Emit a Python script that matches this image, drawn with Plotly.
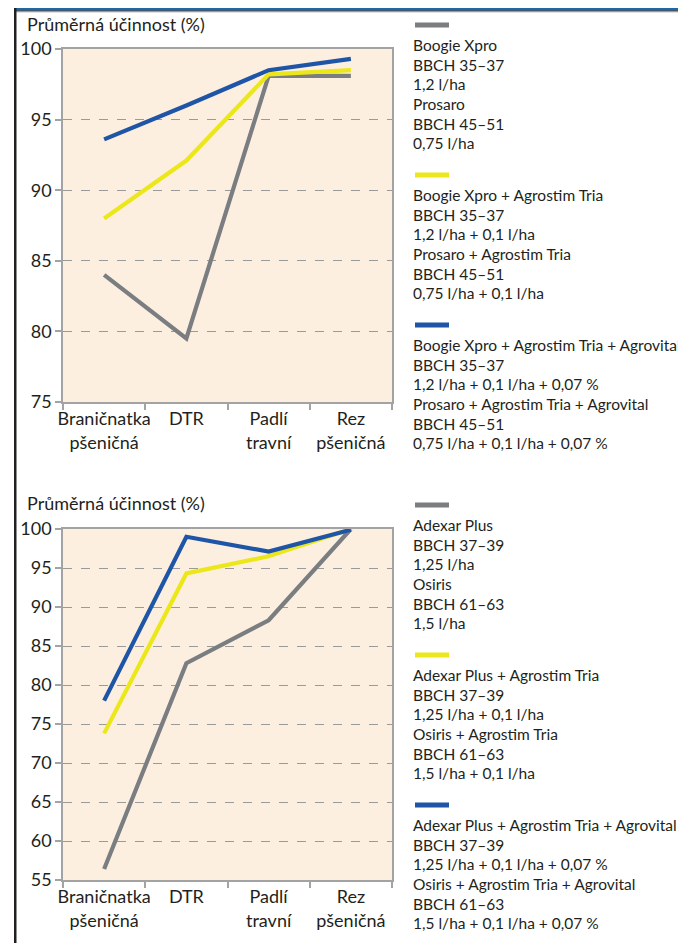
import plotly.graph_objects as go

# ---------------- data ----------------
categories = ["Braničnatka<br>pšeničná", "DTR", "Padlí<br>travní", "Rez<br>pšeničná"]

top_gray = [84.0, 79.5, 98.1, 98.1]
top_yellow = [88.0, 92.1, 98.2, 98.5]
top_blue = [93.6, 96.0, 98.5, 99.3]

bot_gray = [56.4, 82.8, 88.3, 100.0]
bot_yellow = [73.8, 94.3, 96.5, 100.0]
bot_blue = [78.0, 99.0, 97.1, 99.9]

top_tickvals = [75, 80, 85, 90, 95, 100]
bot_tickvals = [55, 60, 65, 70, 75, 80, 85, 90, 95, 100]

y_title = "Průměrná účinnost (%)"

top_legend = [
    ["Boogie Xpro", "BBCH 35–37", "1,2 l/ha", "Prosaro", "BBCH 45–51", "0,75 l/ha"],
    ["Boogie Xpro + Agrostim Tria", "BBCH 35–37", "1,2 l/ha + 0,1 l/ha",
     "Prosaro + Agrostim Tria", "BBCH 45–51", "0,75 l/ha + 0,1 l/ha"],
    ["Boogie Xpro + Agrostim Tria + Agrovital", "BBCH 35–37", "1,2 l/ha + 0,1 l/ha + 0,07 %",
     "Prosaro + Agrostim Tria + Agrovital", "BBCH 45–51", "0,75 l/ha + 0,1 l/ha + 0,07 %"],
]
bot_legend = [
    ["Adexar Plus", "BBCH 37–39", "1,25 l/ha", "Osiris", "BBCH 61–63", "1,5 l/ha"],
    ["Adexar Plus + Agrostim Tria", "BBCH 37–39", "1,25 l/ha + 0,1 l/ha",
     "Osiris + Agrostim Tria", "BBCH 61–63", "1,5 l/ha + 0,1 l/ha"],
    ["Adexar Plus + Agrostim Tria + Agrovital", "BBCH 37–39", "1,25 l/ha + 0,1 l/ha + 0,07 %",
     "Osiris + Agrostim Tria + Agrovital", "BBCH 61–63", "1,5 l/ha + 0,1 l/ha + 0,07 %"],
]

# ---------------- style ----------------
OFF = 8                      # page body margin offset
W, H = 686 - OFF, 943 - OFF
FONT = "Lato"
TXT = "#231f20"
colors = ["#7b7e81", "#ece71a", "#1f55a6"]
plot_bg = "#fdefe0"
axis_col = "#a3a3a3"
grid_col = "#9a9a9a"

def py(p):
    return 1 - (p - OFF) / H

def px_(x):
    return (x - OFF) / W

fig = go.Figure()

series_top = [top_gray, top_yellow, top_blue]
series_bot = [bot_gray, bot_yellow, bot_blue]

for vals, c in zip(series_top, colors):
    fig.add_trace(go.Scatter(x=categories, y=vals, mode="lines",
                             line=dict(color=c, width=4.2),
                             xaxis="x", yaxis="y", showlegend=False, hoverinfo="skip"))
for vals, c in zip(series_bot, colors):
    fig.add_trace(go.Scatter(x=categories, y=vals, mode="lines",
                             line=dict(color=c, width=4.2),
                             xaxis="x2", yaxis="y2", showlegend=False, hoverinfo="skip"))

xaxis_common = dict(
    type="category", range=[-0.5, 3.5], showline=True, linecolor=axis_col, linewidth=1.5,
    mirror=True, ticks="outside", tickson="boundaries", ticklen=6, tickcolor=axis_col,
    tickwidth=1.5, showgrid=False, zeroline=False, tickangle=0, automargin=False,
    tickfont=dict(family=FONT, size=18, color=TXT), fixedrange=True,
)
yaxis_common = dict(
    showline=True, linecolor=axis_col, linewidth=1.5, mirror=True, ticks="outside",
    ticklen=6, tickcolor=axis_col, tickwidth=1.5, showgrid=True, gridcolor=grid_col,
    griddash="dash", gridwidth=1, zeroline=False, automargin=False,
    tickfont=dict(family=FONT, size=18, color=TXT), fixedrange=True,
)

x_dom = [px_(63), px_(392)]

fig.update_layout(
    width=W, height=H, margin=dict(l=0, r=0, t=0, b=0, autoexpand=False),
    paper_bgcolor="white", plot_bgcolor=plot_bg,
    xaxis=dict(domain=x_dom, anchor="y", **xaxis_common),
    yaxis=dict(domain=[py(402), py(49)], anchor="x", range=[75, 100],
               tickvals=top_tickvals, **yaxis_common),
    xaxis2=dict(domain=x_dom, anchor="y2", **xaxis_common),
    yaxis2=dict(domain=[py(880), py(529)], anchor="x2", range=[55, 100],
                tickvals=bot_tickvals, **yaxis_common),
    showlegend=False,
)

annotations = []
shapes = []

# y-axis titles
for ty in (24, 503):
    annotations.append(dict(text=y_title, x=px_(25), y=py(ty), xref="paper", yref="paper",
                            xanchor="left", yanchor="middle", showarrow=False,
                            font=dict(family=FONT, size=18, color=TXT)))

# legends (marker above text block)
def add_legend(groups, start_y):
    for gi, (lines, c) in enumerate(zip(groups, colors)):
        my = start_y + gi * 150
        shapes.append(dict(type="line", xref="paper", yref="paper",
                           x0=px_(415), x1=px_(449), y0=py(my), y1=py(my),
                           line=dict(color=c, width=5)))
        for li, t in enumerate(lines):
            ty = my + 20 + li * 19.65
            annotations.append(dict(text=t, x=px_(411), y=py(ty), xref="paper", yref="paper",
                                    xanchor="left", yanchor="middle", showarrow=False,
                                    font=dict(family=FONT, size=15.5, color=TXT)))

add_legend(top_legend, 25)
add_legend(bot_legend, 505)

# frame decorations: top band and left rule
shapes.append(dict(type="rect", xref="paper", yref="paper", x0=px_(15), x1=1,
                   y0=py(10.2), y1=1, fillcolor="#1c68a8", line=dict(width=0)))
shapes.append(dict(type="rect", xref="paper", yref="paper", x0=px_(15), x1=1,
                   y0=py(11.3), y1=py(10.2), fillcolor="#1b2a3a", line=dict(width=0)))
shapes.append(dict(type="rect", xref="paper", yref="paper", x0=px_(15), x1=1,
                   y0=py(12.3), y1=py(11.3), fillcolor="#8a8a8a", line=dict(width=0)))
shapes.append(dict(type="rect", xref="paper", yref="paper", x0=px_(14), x1=px_(16.5),
                   y0=0, y1=1, fillcolor="#231f20", line=dict(width=0)))

fig.update_layout(annotations=annotations, shapes=shapes)

fig.write_html("out.html")
